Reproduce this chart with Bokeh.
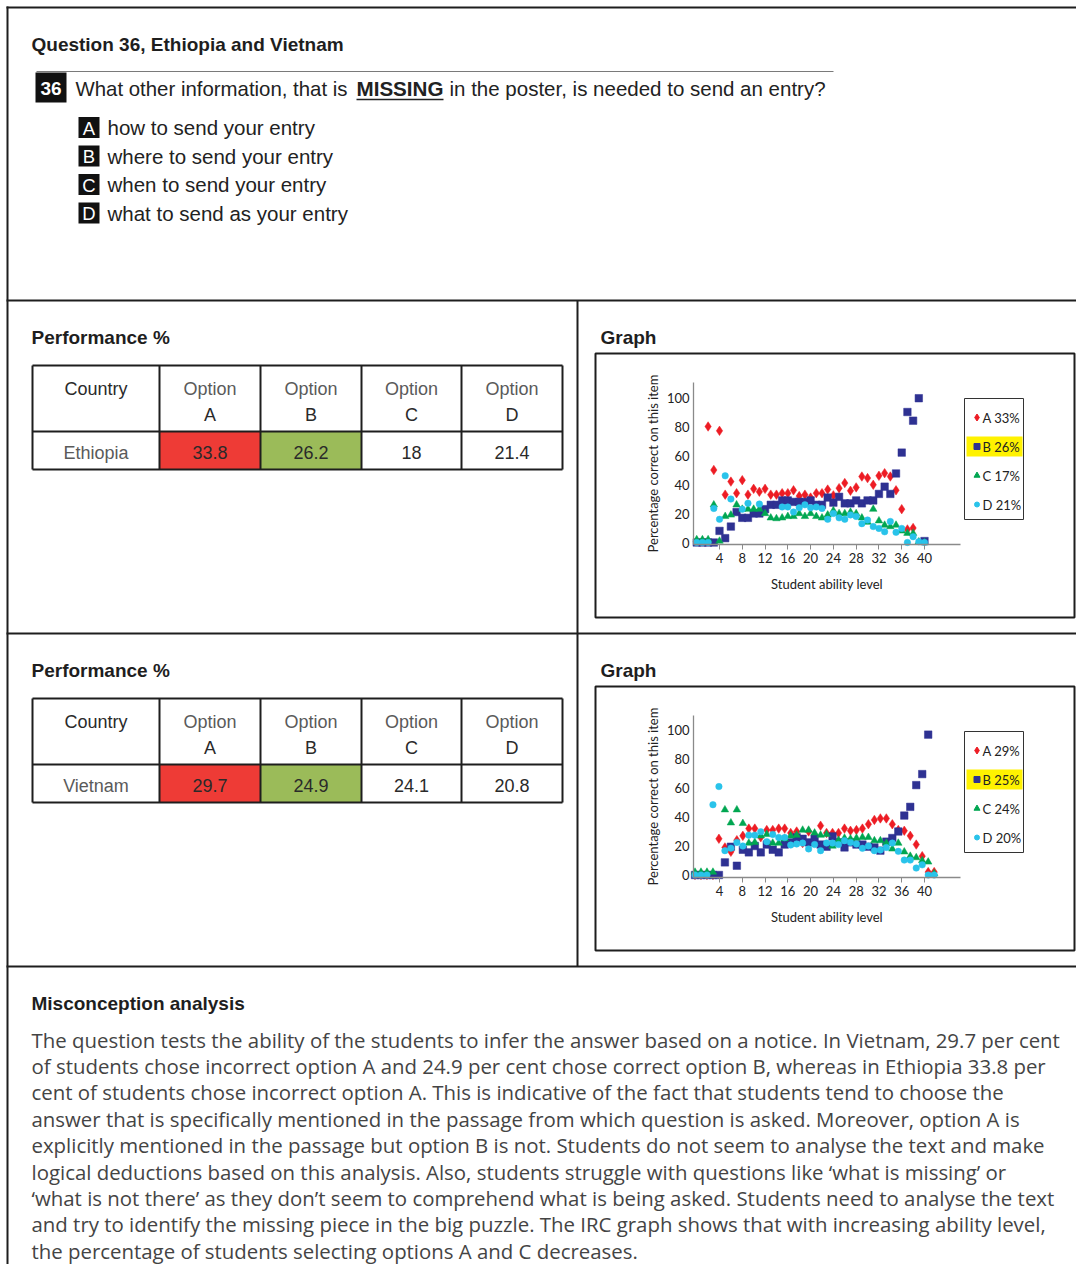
import math
from bokeh.plotting import figure
from bokeh.models import Range1d, LinearAxis, FixedTicker
from bokeh.core.properties import value
from bokeh.embed import file_html
from bokeh.resources import INLINE

nan = float("nan")

# ---------------- data ----------------
title = "Question 36, Ethiopia and Vietnam"
question_num = "36"
question_parts = ["What other information, that is", "MISSING", "in the poster, is needed to send an entry?"]
option_letters = ["A", "B", "C", "D"]
option_texts = ["how to send your entry", "where to send your entry",
                "when to send your entry", "what to send as your entry"]

countries = ["Ethiopia", "Vietnam"]
eth_perf = [33.8, 26.2, 18, 21.4]
vn_perf = [29.7, 24.9, 24.1, 20.8]
eth_legend_pct = [33, 26, 17, 21]
vn_legend_pct = [29, 25, 24, 20]

x_ticks = [4, 8, 12, 16, 20, 24, 28, 32, 36, 40]
y_ticks = [0, 20, 40, 60, 80, 100]

eth_levels = [0, 1, 2, 3, 4, 5, 6, 7, 8, 9, 10, 11, 12, 13, 14, 15, 16, 17, 18, 19, 20,
              21, 22, 23, 24, 25, 26, 27, 28, 29, 30, 31, 32, 33, 34, 35, 36, 37, 38, 39, 40]
eth_A = [nan, nan, 80, 50, 77, 33, 42, 34, 43, 33, 37, 35, 37, 33, 33, 34, 34, 36, 32, 33, 31,
         34, 34, 36.5, 32.5, 37.5, 41, 35.7, 38, 45.5, 44.4, 39.8, 46, 47.8, 45.5, 36, 23, 9, 10, nan, nan]
eth_B = [0, 0, 0, 0, 8, 3, 11, 21, 17, 17, 20, 20, 23, 26, 26, 29, 29, 28, 28, 28, 29,
         26, 26, 31, 27.5, 31.5, 27, 27, 29, 27, 29, 29, 33.5, 38.5, 33.5, 47.6, 62, 90, 84, 99.5, 1]
eth_C = [2, 2, 2, 26, 1, 18, 19, 26, 23, 23, 23, 23, 20, 17, 16.5, 17, 18, 18, 20, 18, 20,
         18, 17, 19, 22, 20, 20, 21, 20, 17, 14, 23, 15, 12, 11, 12, 8, 6.4, 6.4, 0.5, 0]
eth_D = [0, 0, 0, 23.5, 16, 46, 30, nan, 23, 27, nan, 26.5, nan, nan, nan, 24.5, 24.5, 21, 24, 26, 24,
         24.5, 23.5, 16, 20, 17, 16, 19, 18, 13, 15.5, 11, 9.7, 7.4, 14.5, 7, 9.7, 0, 4, 0.5, 0]

vn_levels = [-0.3, 0.75, 1.8, 2.85, 3.9, 4.95, 6.0, 7.05, 8.1, 9.15, 10.2, 11.25, 12.3, 13.35,
             14.4, 15.45, 16.5, 17.55, 18.6, 19.65, 20.7, 21.75, 22.8, 23.85, 24.9, 25.95, 27.0,
             28.05, 29.1, 30.15, 31.2, 32.25, 33.3, 34.35, 35.4, 36.45, 37.5, 38.55, 39.6, 40.65, 41.7]
vn_A = [0, 0, 0, 0, 25, 19, 16, 24, 27, 32, 32, 26, 31, 31, 32, 32, 29, 30, 22, 30, 26,
        34, 29, 29, 29, 32, 30.5, 31, 32, 35, 38, 39, 39, 35, 31, 30.5, 27, 21, 13, 2, 2]
vn_B = [0, 0, 0, 0, 0, 8.7, 19.5, 6.4, 17.4, 15.6, 20, 15.6, 21, 17.4, 15.6, 21, 22.5, 26, 25, 22.5, 25,
        21, 19.5, 26.6, 22.5, 19, 22.5, 21, 21, 19.5, 19, 16.8, 23, 25.5, 30, 41, 47, 62, 69.6, 96.8, nan]
vn_C = [2, 2, 2, 2, nan, 45, 36, 45, 35.6, 22, 22.5, 27, 28, 22, 22, 25, 27, 27.5, 31, 31, 29,
        27.5, 28, 20, 24, 25.5, 25, 25.5, 26, 26, 23.7, 23.7, 22, 18, 22, 16, 13, 12, 10, 9, 1]
vn_D = [0, 0, 0, 48.5, 61, 16.8, 18.5, 22.5, 20, 27.5, 27.5, 29.8, 23, 28, 25.8, 25.8, 20.7, 21.4, 22, 18, 21,
        16.8, 22, 22, 21, 23.7, 22.5, 21.4, 18.4, 20, 16.8, 17.2, 19, 22, 16.3, 10.3, 10.3, 4.8, 7, 0, 0]

analysis_title = "Misconception analysis"
analysis_lines = [
    "The question tests the ability of the students to infer the answer based on a notice. In Vietnam, 29.7 per cent",
    "of students chose incorrect option A and 24.9 per cent chose correct option B, whereas in Ethiopia 33.8 per",
    "cent of students chose incorrect option A. This is indicative of the fact that students tend to choose the",
    "answer that is specifically mentioned in the passage from which question is asked. Moreover, option A is",
    "explicitly mentioned in the passage but option B is not. Students do not seem to analyse the text and make",
    "logical deductions based on this analysis. Also, students struggle with questions like \u2018what is missing\u2019 or",
    "\u2018what is not there\u2019 as they don\u2019t seem to comprehend what is being asked. Students need to analyse the text",
    "and try to identify the missing piece in the big puzzle. The IRC graph shows that with increasing ability level,",
    "the percentage of students selecting options A and C decreases.",
]

# ---------------- figure ----------------
W, H = 1076, 1264
X0, Y0 = 0, 0
RIGHT = X0 + W
p = figure(width=W, height=H, x_range=Range1d(X0, X0 + W), y_range=Range1d(Y0 + H, Y0),
           output_backend="svg", toolbar_location=None, min_border=0,
           x_axis_location=None, y_axis_location=None)
p.outline_line_color = None
p.grid.visible = False
p.background_fill_color = "white"
p.border_fill_color = "white"

SANS = "Liberation Sans"
BODY = "Open Sans"
CHART_FONT = "Lato"
DARK = "#1e1e1e"


def txt(x, y, s, size="19px", color=DARK, style="normal", align="left",
        baseline="middle", font=SANS, angle=0):
    p.text(x=[x], y=[y], text=[s], text_font=value(font), text_font_size=size,
           text_color=color, text_font_style=style, text_align=align,
           text_baseline=baseline, angle=angle)


def seg(x0, y0, x1, y1, color=DARK, width=2):
    p.segment(x0=[x0], y0=[y0], x1=[x1], y1=[y1], line_color=color, line_width=width)


def box(l, r, t, b, fill=None, line=None, lw=1):
    p.quad(left=[l], right=[r], top=[t], bottom=[b], fill_color=fill,
           line_color=line, line_width=lw)


# page frame and dividers
seg(7, 6, 7, H)
seg(6, 7, RIGHT, 7)
seg(6, 300, RIGHT, 300)
seg(6, 633, RIGHT, 633)
seg(6, 966, RIGHT, 966)
seg(577, 300, 577, 966)

# ---------------- question block ----------------
txt(31, 44, title, size="19px", style="bold")
seg(36, 71, 833, 71, color="#7a7a7a", width=1)
box(35, 66, 72, 102, fill="#111111")
txt(50.5, 87.5, question_num, size="19px", color="white", style="bold", align="center")
txt(75, 88, question_parts[0], size="20.4px", color="#222222")
txt(356, 88, question_parts[1], size="20.6px", color="#222222", style="bold")
seg(356, 99, 443, 99, color="#222222", width=1.6)
txt(449, 88, question_parts[2], size="20.5px", color="#222222")
opt_y = [127, 155.5, 184, 212.5]
for letter, t, yy in zip(option_letters, option_texts, opt_y):
    box(78, 99, yy - 10.5, yy + 10.5, fill="#111111")
    txt(88.5, yy + 0.5, letter, size="18.5px", color="white", align="center")
    txt(107, yy, t, size="20.5px", color="#222222")

# ---------------- tables ----------------
col_x = [32, 159, 260, 361, 461, 562]
cell_fills = ["#EE3B36", "#9BBB59", None, None]


def table(top, country, perf):
    rows = [top, top + 66, top + 104]
    txt(31, top - 28, "Performance %", size="19px", style="bold")
    box(col_x[1], col_x[2], rows[1], rows[2], fill=cell_fills[0])
    box(col_x[2], col_x[3], rows[1], rows[2], fill=cell_fills[1])
    for yy in rows:
        seg(col_x[0], yy, col_x[-1], yy)
    for xx in col_x:
        seg(xx, rows[0], xx, rows[2])
    txt((col_x[0] + col_x[1]) / 2, top + 23, "Country", size="18px", color="#2a2a2a", align="center")
    for i, letter in enumerate(option_letters):
        cx = (col_x[i + 1] + col_x[i + 2]) / 2
        txt(cx, top + 23, "Option", size="18px", color="#5a5a5a", align="center")
        txt(cx, top + 49, letter, size="18px", color="#2a2a2a", align="center")
        txt(cx, top + 87, f"{perf[i]:g}", size="18px", color="#2a2a2a", align="center")
    txt((col_x[0] + col_x[1]) / 2, top + 87, country, size="18px", color="#5a5a5a", align="center")


table(365, countries[0], eth_perf)
table(698, countries[1], vn_perf)

# ---------------- graphs ----------------
styles = [("diamond", "#ED1C24", 9.5, 7), ("square", "#2E3192", 7.5, 6),
          ("triangle", "#00A651", 7.5, 6), ("circle", "#29C3EA", 6.5, 5)]
X4_PX, X40_PX = 719.0, 924.0
PPL = (X40_PX - X4_PX) / 36.0
PPV = 1.45


def graph(name, oy, y0_px, lv, series, pcts):
    txt(600, 337 + oy, "Graph", size="19px", style="bold")
    box(595, RIGHT - 2, 353 + oy, 617 + oy, line=DARK, lw=2)
    xr, yr = name + "_x", name + "_y"
    p.extra_x_ranges[xr] = Range1d(4 + (X0 - X4_PX) / PPL, 4 + (X0 + W - X4_PX) / PPL)
    p.extra_y_ranges[yr] = Range1d((y0_px - (Y0 + H)) / PPV, (y0_px - Y0) / PPV)
    x_left = 4 + (693 - X4_PX) / PPL
    x_right = 4 + (960 - X4_PX) / PPL
    y_axis_val = (y0_px - (544 + oy)) / PPV
    y_top = (y0_px - (382 + oy)) / PPV

    xa = LinearAxis(x_range_name=xr, y_range_name=yr, fixed_location=y_axis_val,
                    bounds=(x_left, x_right), ticker=FixedTicker(ticks=x_ticks))
    ya = LinearAxis(x_range_name=xr, y_range_name=yr, fixed_location=x_left,
                    bounds=(y_axis_val, y_top), ticker=FixedTicker(ticks=y_ticks))
    for ax in (xa, ya):
        ax.axis_line_color = "#8a8a8a"
        ax.axis_line_width = 1.3
        ax.major_tick_line_color = "#8a8a8a"
        ax.minor_tick_line_color = None
        ax.major_tick_in = 0
        ax.major_label_text_font = CHART_FONT
        ax.major_label_text_font_size = "13px"
        ax.major_label_text_color = "#222222"
        ax.axis_label_text_font = CHART_FONT
        ax.axis_label_text_font_size = "13px"
        ax.axis_label_text_font_style = "normal"
        ax.axis_label_text_color = "#222222"
    xa.major_tick_out = 5
    xa.major_label_standoff = 3
    xa.axis_label = "Student ability level"
    xa.axis_label_standoff = 10
    ya.major_tick_out = 0
    ya.major_label_standoff = 4
    ya.axis_label = "Percentage correct on this item"
    ya.axis_label_standoff = 3
    p.add_layout(xa, "below")
    p.add_layout(ya, "left")

    for (marker, color, size, _), vals in zip(styles, series):
        p.scatter(x=lv, y=vals, marker=marker, size=size, fill_color=color,
                  line_color=color, line_width=0.5, x_range_name=xr, y_range_name=yr)

    # legend
    box(964, 1023, 398 + oy, 519 + oy, line="#333333", lw=1)
    box(966, 1022, 436 + oy, 456 + oy, fill="#FFF200")
    for i, ((marker, color, _, lsize), pct, letter) in enumerate(zip(styles, pcts, option_letters)):
        yy = 417 + oy + 29 * i
        p.scatter(x=[976.5], y=[yy], marker=marker, size=lsize, fill_color=color, line_color=color)
        txt(982, yy + 0.5, f"{letter} {pct}%", size="13px", color="#222222", font=CHART_FONT)


graph("eth", 0, 542.0, eth_levels, [eth_A, eth_B, eth_C, eth_D], eth_legend_pct)
graph("vn", 333, 874.5, vn_levels, [vn_A, vn_B, vn_C, vn_D], vn_legend_pct)

# ---------------- analysis ----------------
txt(31, 1003, analysis_title, size="19px", style="bold")
for i, line in enumerate(analysis_lines):
    txt(31, 1039 + 26.4 * i, line, size="20.4px", color="#444444", font=BODY)

open("out.html", "w").write(file_html(p, INLINE))
